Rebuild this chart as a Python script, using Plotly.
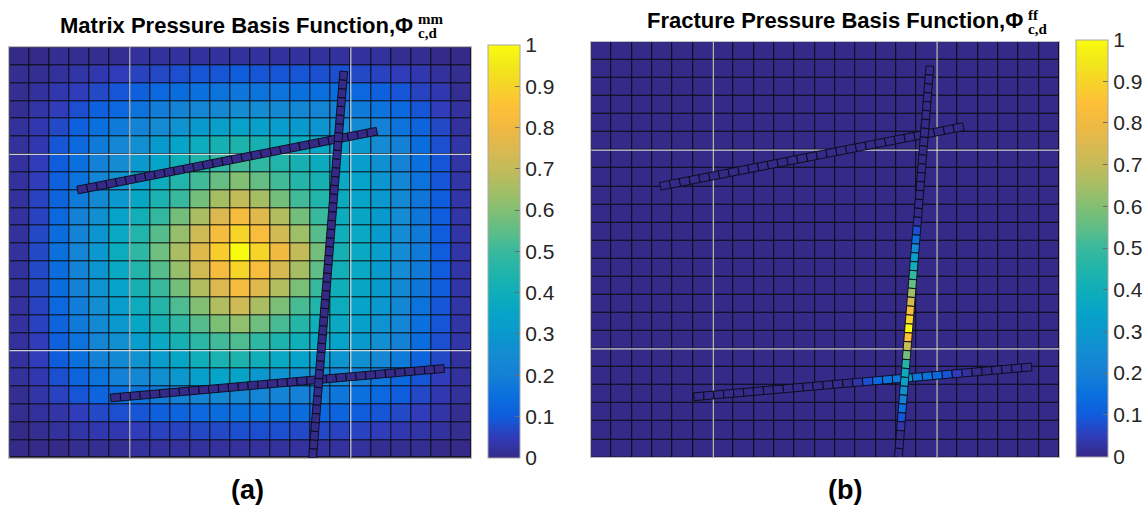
import numpy as np
import plotly.graph_objects as go
from plotly.colors import sample_colorscale

W, H = 1148, 507
N_CELLS = 23

# ---------------- data ----------------
GRID_TICKS = [6, 17]
CBAR_TICKS = [0, 0.1, 0.2, 0.3, 0.4, 0.5, 0.6, 0.7, 0.8, 0.9, 1.0]
CBAR_LABELS = ["0", "0.1", "0.2", "0.3", "0.4", "0.5", "0.6", "0.7", "0.8", "0.9", "1"]

# matrix pressure basis function (rows listed top -> bottom, columns left -> right)
MATRIX_PHI = [
    [0.00, 0.00, 0.01, 0.01, 0.01, 0.01, 0.02, 0.02, 0.02, 0.02, 0.02, 0.02, 0.02, 0.02, 0.02, 0.02, 0.02, 0.02, 0.02, 0.01, 0.01, 0.00, 0.00],
    [0.01, 0.01, 0.02, 0.03, 0.04, 0.05, 0.06, 0.07, 0.08, 0.09, 0.09, 0.10, 0.09, 0.09, 0.09, 0.08, 0.08, 0.07, 0.06, 0.05, 0.04, 0.02, 0.01],
    [0.01, 0.02, 0.04, 0.05, 0.07, 0.09, 0.11, 0.13, 0.14, 0.15, 0.16, 0.17, 0.16, 0.16, 0.15, 0.15, 0.14, 0.13, 0.11, 0.09, 0.06, 0.04, 0.01],
    [0.01, 0.03, 0.05, 0.08, 0.11, 0.13, 0.16, 0.19, 0.21, 0.23, 0.24, 0.25, 0.25, 0.24, 0.23, 0.22, 0.20, 0.18, 0.16, 0.13, 0.09, 0.05, 0.02],
    [0.02, 0.04, 0.07, 0.11, 0.15, 0.18, 0.21, 0.25, 0.28, 0.31, 0.33, 0.34, 0.33, 0.32, 0.31, 0.29, 0.27, 0.24, 0.20, 0.16, 0.12, 0.07, 0.02],
    [0.02, 0.04, 0.09, 0.13, 0.18, 0.23, 0.27, 0.31, 0.35, 0.39, 0.42, 0.44, 0.42, 0.40, 0.38, 0.36, 0.33, 0.30, 0.25, 0.20, 0.14, 0.08, 0.03],
    [0.02, 0.05, 0.10, 0.15, 0.20, 0.25, 0.30, 0.35, 0.40, 0.45, 0.48, 0.51, 0.48, 0.45, 0.42, 0.38, 0.35, 0.32, 0.27, 0.21, 0.15, 0.09, 0.03],
    [0.02, 0.05, 0.11, 0.16, 0.22, 0.28, 0.33, 0.39, 0.45, 0.51, 0.56, 0.60, 0.56, 0.51, 0.46, 0.42, 0.37, 0.34, 0.29, 0.23, 0.16, 0.09, 0.03],
    [0.02, 0.06, 0.12, 0.18, 0.24, 0.30, 0.36, 0.43, 0.50, 0.58, 0.65, 0.70, 0.65, 0.58, 0.51, 0.45, 0.38, 0.35, 0.30, 0.24, 0.17, 0.10, 0.03],
    [0.02, 0.06, 0.13, 0.20, 0.27, 0.34, 0.41, 0.49, 0.58, 0.66, 0.75, 0.82, 0.76, 0.67, 0.58, 0.50, 0.39, 0.36, 0.31, 0.25, 0.17, 0.10, 0.03],
    [0.02, 0.07, 0.14, 0.21, 0.29, 0.37, 0.45, 0.54, 0.63, 0.72, 0.82, 0.90, 0.83, 0.73, 0.64, 0.54, 0.40, 0.37, 0.31, 0.25, 0.18, 0.10, 0.03],
    [0.02, 0.07, 0.15, 0.22, 0.30, 0.39, 0.48, 0.57, 0.66, 0.76, 0.88, 1.00, 0.90, 0.80, 0.70, 0.58, 0.42, 0.37, 0.32, 0.25, 0.18, 0.10, 0.03],
    [0.02, 0.07, 0.14, 0.21, 0.29, 0.37, 0.45, 0.54, 0.63, 0.73, 0.82, 0.90, 0.83, 0.74, 0.65, 0.55, 0.41, 0.37, 0.31, 0.25, 0.18, 0.10, 0.03],
    [0.02, 0.07, 0.14, 0.20, 0.28, 0.35, 0.42, 0.50, 0.58, 0.67, 0.75, 0.82, 0.76, 0.67, 0.59, 0.50, 0.40, 0.36, 0.31, 0.24, 0.17, 0.10, 0.03],
    [0.02, 0.06, 0.13, 0.19, 0.26, 0.32, 0.39, 0.46, 0.53, 0.60, 0.67, 0.72, 0.66, 0.59, 0.52, 0.45, 0.39, 0.35, 0.30, 0.23, 0.16, 0.09, 0.03],
    [0.02, 0.06, 0.12, 0.18, 0.24, 0.30, 0.36, 0.42, 0.48, 0.54, 0.59, 0.62, 0.57, 0.52, 0.46, 0.40, 0.37, 0.33, 0.28, 0.22, 0.15, 0.09, 0.03],
    [0.02, 0.05, 0.11, 0.16, 0.22, 0.27, 0.32, 0.37, 0.42, 0.47, 0.51, 0.53, 0.48, 0.44, 0.40, 0.37, 0.34, 0.31, 0.26, 0.20, 0.14, 0.08, 0.03],
    [0.02, 0.05, 0.10, 0.15, 0.20, 0.24, 0.28, 0.32, 0.36, 0.40, 0.43, 0.44, 0.40, 0.37, 0.34, 0.32, 0.29, 0.27, 0.23, 0.18, 0.12, 0.07, 0.02],
    [0.02, 0.04, 0.08, 0.12, 0.16, 0.20, 0.23, 0.27, 0.30, 0.33, 0.35, 0.35, 0.30, 0.28, 0.27, 0.25, 0.23, 0.20, 0.17, 0.13, 0.09, 0.05, 0.02],
    [0.01, 0.03, 0.06, 0.09, 0.12, 0.14, 0.16, 0.18, 0.20, 0.22, 0.23, 0.23, 0.22, 0.21, 0.20, 0.19, 0.17, 0.15, 0.13, 0.10, 0.07, 0.04, 0.02],
    [0.01, 0.02, 0.03, 0.05, 0.07, 0.08, 0.09, 0.11, 0.12, 0.13, 0.14, 0.15, 0.15, 0.14, 0.14, 0.13, 0.12, 0.10, 0.09, 0.07, 0.05, 0.03, 0.01],
    [0.00, 0.01, 0.02, 0.03, 0.04, 0.04, 0.05, 0.06, 0.06, 0.07, 0.07, 0.08, 0.08, 0.08, 0.07, 0.07, 0.06, 0.06, 0.05, 0.04, 0.03, 0.02, 0.01],
    [0.00, 0.00, 0.00, 0.01, 0.01, 0.01, 0.02, 0.02, 0.02, 0.02, 0.02, 0.02, 0.02, 0.02, 0.02, 0.02, 0.02, 0.02, 0.01, 0.01, 0.01, 0.00, 0.00],
]

# fracture pressure basis function: matrix cells all at 0
FRACTURE_PHI_MATRIX_ROW = [0.0] * 23
FRACTURE_PHI = [FRACTURE_PHI_MATRIX_ROW for _ in range(23)]

# fracture geometry (grid-cell units, y measured upward) and number of fracture cells
FRAC_UPPER = ((3.40, 15.00), (18.30, 18.30))
FRAC_LOWER = ((5.05, 3.35), (21.65, 5.00))
FRAC_VERT = ((16.65, 21.65), (15.10, 0.00))
N_UPPER, N_LOWER, N_VERT = 31, 34, 44

# fracture-cell values, panel (a)
A_UPPER = [0.0] * N_UPPER
A_LOWER = [0.0] * N_LOWER
A_VERT = [0.0] * N_VERT

# fracture-cell values, panel (b)
B_UPPER = [0.0] * N_UPPER
B_LOWER = [0.0] * 16 + [0.03, 0.08, 0.13, 0.16, 0.17, 0.30, 0.17, 0.16, 0.13, 0.09, 0.05, 0.02] + [0.0] * 6
B_VERT = [0.0] * 17 + [0.02, 0.08, 0.15, 0.24, 0.33, 0.40, 0.48, 0.56, 0.64, 0.73, 0.82, 0.90, 1.00,
                       0.84, 0.71, 0.58, 0.46, 0.38, 0.33, 0.27, 0.20, 0.15, 0.09, 0.03, 0.0, 0.0, 0.0]

PARULA = [
    [0.00, "rgb(53,42,135)"], [0.05, "rgb(48,60,185)"], [0.10, "rgb(15,92,221)"],
    [0.15, "rgb(10,112,222)"], [0.20, "rgb(20,128,214)"], [0.25, "rgb(20,139,210)"],
    [0.30, "rgb(10,152,206)"], [0.35, "rgb(6,164,200)"], [0.40, "rgb(15,174,185)"],
    [0.45, "rgb(32,180,170)"], [0.50, "rgb(56,185,158)"], [0.55, "rgb(95,189,135)"],
    [0.60, "rgb(130,191,115)"], [0.65, "rgb(165,190,100)"], [0.70, "rgb(195,187,88)"],
    [0.75, "rgb(220,185,80)"], [0.80, "rgb(240,185,64)"], [0.85, "rgb(254,192,56)"],
    [0.90, "rgb(246,212,40)"], [0.95, "rgb(242,232,26)"], [1.00, "rgb(249,251,14)"],
]

# ---------------- layout geometry (pixels) ----------------
PANELS = {
    "a": dict(x0=9.3, x1=471.7, y0=47.3, y1=457.7, cb_x0=487.7, cb_x1=519.3, cb_y0=45.0, cb_y1=457.7),
    "b": dict(x0=591.7, x1=1060.0, y0=41.7, y1=457.3, cb_x0=1076.0, cb_x1=1108.3, cb_y0=39.3, cb_y1=456.7),
}

fig = go.Figure()
centers = np.arange(N_CELLS) + 0.5


def add_panel(key, xa, ya, cax, z_top_down, fracs):
    p = PANELS[key]
    z = np.array(z_top_down)[::-1]
    fig.add_trace(go.Heatmap(z=z, x=centers, y=centers, coloraxis=cax, xgap=1, ygap=1,
                             xaxis=xa, yaxis=ya, hoverinfo="skip"))
    # white grid lines at tick positions
    for t in GRID_TICKS:
        fig.add_trace(go.Scatter(x=[t, t], y=[0, N_CELLS], mode="lines", xaxis=xa, yaxis=ya,
                                 line=dict(color="rgba(235,235,240,0.85)", width=1.2),
                                 showlegend=False, hoverinfo="skip"))
        fig.add_trace(go.Scatter(x=[0, N_CELLS], y=[t, t], mode="lines", xaxis=xa, yaxis=ya,
                                 line=dict(color="rgba(235,235,240,0.85)", width=1.2),
                                 showlegend=False, hoverinfo="skip"))
    sx = (p["x1"] - p["x0"]) / N_CELLS
    sy = (p["y1"] - p["y0"]) / N_CELLS
    half_w = 3.9  # px
    for (P0, P1), vals in fracs:
        n = len(vals)
        dxp = (P1[0] - P0[0]) * sx
        dyp = (P1[1] - P0[1]) * sy
        L = np.hypot(dxp, dyp)
        nx, ny = -dyp / L, dxp / L
        ox, oy = nx * half_w / sx, ny * half_w / sy
        cols = sample_colorscale(PARULA, [min(max(v, 0), 1) for v in vals])
        for k, v in enumerate(vals):
            a0 = (P0[0] + (P1[0] - P0[0]) * k / n, P0[1] + (P1[1] - P0[1]) * k / n)
            a1 = (P0[0] + (P1[0] - P0[0]) * (k + 1) / n, P0[1] + (P1[1] - P0[1]) * (k + 1) / n)
            xs = [a0[0] + ox, a1[0] + ox, a1[0] - ox, a0[0] - ox, a0[0] + ox]
            ys = [a0[1] + oy, a1[1] + oy, a1[1] - oy, a0[1] - oy, a0[1] + oy]
            fig.add_trace(go.Scatter(x=xs, y=ys, mode="lines", fill="toself", fillcolor=cols[k],
                                     line=dict(color="rgba(10,10,20,0.9)", width=1),
                                     xaxis=xa, yaxis=ya, showlegend=False, hoverinfo="skip"))


add_panel("a", "x", "y", "coloraxis", MATRIX_PHI,
          [(FRAC_UPPER, A_UPPER), (FRAC_LOWER, A_LOWER), (FRAC_VERT, A_VERT)])
add_panel("b", "x2", "y2", "coloraxis2", FRACTURE_PHI,
          [(FRAC_UPPER, B_UPPER), (FRAC_LOWER, B_LOWER), (FRAC_VERT, B_VERT)])


def axis_dom(p, horiz):
    if horiz:
        return [p["x0"] / W, p["x1"] / W]
    return [1 - p["y1"] / H, 1 - p["y0"] / H]


ax_common = dict(range=[0, N_CELLS], showgrid=False, zeroline=False, showticklabels=False,
                 ticks="", showline=True, mirror=True, linecolor="#bdbdbd", linewidth=1)


def cbar(p):
    return dict(x=p["cb_x0"] / W, xanchor="left", xpad=0, ypad=0,
                y=1 - (p["cb_y0"] + p["cb_y1"]) / 2 / H, yanchor="middle",
                len=(p["cb_y1"] - p["cb_y0"]) / H, lenmode="fraction",
                thickness=p["cb_x1"] - p["cb_x0"], thicknessmode="pixels",
                outlinewidth=1, outlinecolor="#a8a8a8",
                tickvals=CBAR_TICKS, ticktext=CBAR_LABELS, ticks="inside", ticklen=5,
                tickcolor="#6a6a6a", tickfont=dict(size=21, family="Liberation Sans, Arial", color="#262626"))


pa, pb = PANELS["a"], PANELS["b"]
fig.update_layout(
    width=W, height=H, margin=dict(l=0, r=0, t=0, b=0),
    paper_bgcolor="white", plot_bgcolor="#0a0a0a", showlegend=False,
    xaxis=dict(domain=axis_dom(pa, True), **ax_common),
    yaxis=dict(domain=axis_dom(pa, False), **ax_common),
    xaxis2=dict(domain=axis_dom(pb, True), anchor="y2", **ax_common),
    yaxis2=dict(domain=axis_dom(pb, False), anchor="x2", **ax_common),
    coloraxis=dict(colorscale=PARULA, cmin=0, cmax=1, colorbar=cbar(pa)),
    coloraxis2=dict(colorscale=PARULA, cmin=0, cmax=1, colorbar=cbar(pb)),
)

TF = "Liberation Sans, Arial, sans-serif"
SF = "Liberation Serif, Times New Roman, serif"
ann = []
# title (a)
ann.append(dict(text="<b>Matrix Pressure Basis Function,Φ</b>", x=415 / W, y=1 - 25 / H,
                xanchor="right", yanchor="middle", font=dict(size=22, family=TF, color="black")))
ann.append(dict(text="<b>mm</b>", x=416 / W, y=1 - 19 / H, xanchor="left", yanchor="middle",
                font=dict(size=15, family=SF, color="black")))
ann.append(dict(text="<b>c,d</b>", x=416 / W, y=1 - 33 / H, xanchor="left", yanchor="middle",
                font=dict(size=15, family=SF, color="black")))
# title (b)
ann.append(dict(text="<b>Fracture Pressure Basis Function,Φ</b>", x=1026 / W, y=1 - 21 / H,
                xanchor="right", yanchor="middle", font=dict(size=22, family=TF, color="black")))
ann.append(dict(text="<b>ff</b>", x=1027 / W, y=1 - 15 / H, xanchor="left", yanchor="middle",
                font=dict(size=15, family=SF, color="black")))
ann.append(dict(text="<b>c,d</b>", x=1027 / W, y=1 - 29 / H, xanchor="left", yanchor="middle",
                font=dict(size=15, family=SF, color="black")))
# panel labels
ann.append(dict(text="<b>(a)</b>", x=248 / W, y=1 - 490 / H, xanchor="center", yanchor="middle",
                font=dict(size=27, family=TF, color="black")))
ann.append(dict(text="<b>(b)</b>", x=846 / W, y=1 - 490 / H, xanchor="center", yanchor="middle",
                font=dict(size=27, family=TF, color="black")))
for a in ann:
    a.update(xref="paper", yref="paper", showarrow=False)
fig.update_layout(annotations=ann)

fig.write_html("out.html", config={"displayModeBar": False},
               post_script="document.body.style.margin='0px';document.body.style.overflow='hidden';")
